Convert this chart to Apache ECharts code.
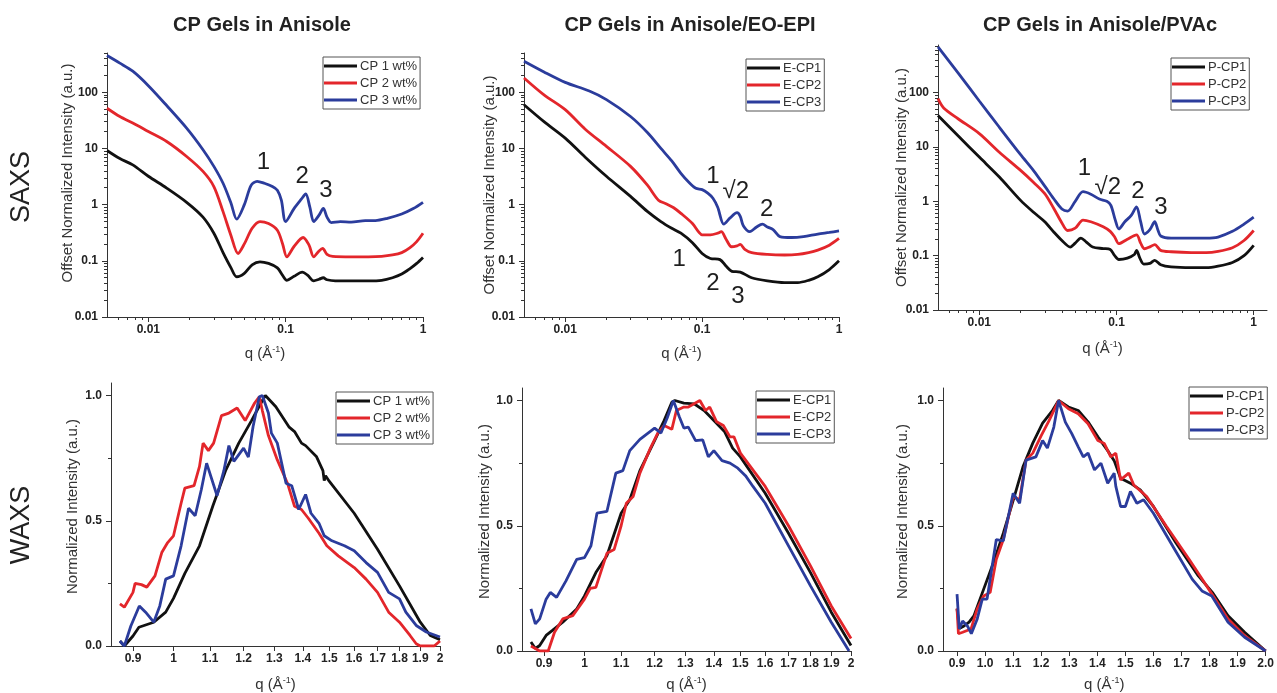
<!DOCTYPE html>
<html>
<head>
<meta charset="utf-8">
<script src="https://cdn.jsdelivr.net/npm/echarts@6/dist/echarts.min.js"></script>
<style>
  html, body { margin: 0; padding: 0; background: #ffffff; }
  #chart { width: 1277px; height: 693px; }
</style>
</head>
<body>
<div id="chart"></div>
<script>
// ---------- Tick values ----------
const saxsXMajor = [0.01, 0.1, 1];
const saxsXMinor = [0.006, 0.007, 0.008, 0.009, 0.02, 0.03, 0.04, 0.05, 0.06, 0.07, 0.08, 0.09,
                    0.2, 0.3, 0.4, 0.5, 0.6, 0.7, 0.8, 0.9];
const saxsYMajor = [0.01, 0.1, 1, 10, 100];
const saxsYMinor = [0.02, 0.03, 0.04, 0.05, 0.06, 0.07, 0.08, 0.09, 0.2, 0.3, 0.4, 0.5, 0.6, 0.7, 0.8, 0.9,
                    2, 3, 4, 5, 6, 7, 8, 9, 20, 30, 40, 50, 60, 70, 80, 90, 200, 300, 400, 500, 600, 700];
const waxsXMajor = [0.9, 1.0, 1.1, 1.2, 1.3, 1.4, 1.5, 1.6, 1.7, 1.8, 1.9, 2.0];
const waxsYMajor = [0, 0.5, 1.0];
const waxsYMinor = [0.25, 0.75];

// ---------- SAXS: CP gels in anisole  [q (1/Å), intensity] ----------
const cp1Saxs = [[0.005, 9.2], [0.0062, 6.6], [0.0077, 5.1], [0.01, 3.2], [0.0136, 1.97], [0.019, 1.1],
  [0.025, 0.6], [0.03, 0.31], [0.035, 0.14], [0.04, 0.075], [0.044, 0.052], [0.05, 0.06], [0.057, 0.085],
  [0.065, 0.096], [0.075, 0.09], [0.087, 0.075], [0.095, 0.055], [0.102, 0.045], [0.115, 0.053],
  [0.132, 0.063], [0.145, 0.055], [0.16, 0.044], [0.175, 0.047], [0.188, 0.05], [0.2, 0.046], [0.23, 0.044],
  [0.3, 0.044], [0.4, 0.044], [0.5, 0.045], [0.6, 0.05], [0.7, 0.058], [0.8, 0.072], [0.9, 0.09], [1.0, 0.115]];
const cp2Saxs = [[0.005, 52], [0.0062, 37], [0.0077, 28.3], [0.01, 20], [0.0136, 13.3], [0.019, 7.2],
  [0.025, 3.9], [0.03, 2.1], [0.035, 0.75], [0.04, 0.28], [0.045, 0.135], [0.05, 0.2], [0.057, 0.38],
  [0.065, 0.5], [0.075, 0.46], [0.087, 0.35], [0.095, 0.2], [0.102, 0.118], [0.115, 0.18], [0.134, 0.26],
  [0.148, 0.19], [0.16, 0.118], [0.175, 0.15], [0.186, 0.166], [0.2, 0.13], [0.22, 0.12], [0.3, 0.118],
  [0.4, 0.118], [0.5, 0.12], [0.6, 0.127], [0.7, 0.14], [0.8, 0.17], [0.9, 0.22], [1.0, 0.31]];
const cp3Saxs = [[0.005, 450], [0.0062, 330], [0.0077, 237], [0.01, 131], [0.0136, 58], [0.019, 23],
  [0.025, 9.5], [0.03, 4.8], [0.035, 2.4], [0.04, 1.06], [0.044, 0.55], [0.05, 1.0], [0.056, 2.2],
  [0.062, 2.6], [0.07, 2.4], [0.08, 2.1], [0.087, 1.8], [0.093, 1.2], [0.1, 0.5], [0.115, 0.85], [0.13, 1.25],
  [0.14, 1.55], [0.15, 0.9], [0.16, 0.5], [0.175, 0.65], [0.188, 0.86], [0.2, 0.6], [0.215, 0.48],
  [0.25, 0.5], [0.3, 0.49], [0.38, 0.52], [0.45, 0.52], [0.55, 0.57], [0.7, 0.68], [0.85, 0.85], [1.0, 1.1]];
const saxsAniMarks = [['1', 0.069, 5.6], ['2', 0.132, 3.2], ['3', 0.196, 1.78]];

// ---------- SAXS: CP gels in anisole/EO-EPI ----------
const ecp1Saxs = [[0.005, 60], [0.007, 30], [0.01, 15.3], [0.014, 7], [0.02, 3.2], [0.03, 1.4], [0.04, 0.75],
  [0.05, 0.5], [0.06, 0.38], [0.07, 0.31], [0.085, 0.21], [0.1, 0.135], [0.115, 0.11], [0.135, 0.105],
  [0.15, 0.08], [0.165, 0.065], [0.19, 0.063], [0.23, 0.05], [0.3, 0.044], [0.4, 0.041], [0.5, 0.041],
  [0.6, 0.045], [0.7, 0.052], [0.85, 0.07], [1.0, 0.1]];
const ecp2Saxs = [[0.005, 180], [0.007, 90], [0.01, 49], [0.014, 22], [0.02, 10.9], [0.03, 4.8], [0.04, 2.2],
  [0.048, 1.2], [0.055, 1.03], [0.062, 0.88], [0.07, 0.7], [0.085, 0.46], [0.095, 0.32], [0.1, 0.29],
  [0.115, 0.29], [0.13, 0.31], [0.138, 0.33], [0.15, 0.24], [0.164, 0.178], [0.18, 0.185], [0.19, 0.196],
  [0.205, 0.16], [0.23, 0.14], [0.3, 0.13], [0.4, 0.127], [0.5, 0.13], [0.6, 0.14], [0.7, 0.155],
  [0.85, 0.19], [1.0, 0.25]];
const ecp3Saxs = [[0.005, 357], [0.007, 230], [0.01, 150], [0.015, 105], [0.02, 74], [0.03, 37], [0.04, 19],
  [0.05, 10], [0.06, 6], [0.07, 3.6], [0.08, 2.5], [0.09, 1.95], [0.1, 1.85], [0.11, 1.6], [0.12, 1.3],
  [0.13, 0.9], [0.144, 0.45], [0.16, 0.58], [0.18, 0.72], [0.19, 0.62], [0.2, 0.42], [0.223, 0.33],
  [0.25, 0.4], [0.276, 0.45], [0.3, 0.4], [0.33, 0.36], [0.37, 0.27], [0.45, 0.26], [0.55, 0.27],
  [0.7, 0.3], [0.85, 0.32], [1.0, 0.34]];
const saxsEpiMarks = [['1', 0.12, 3.16], ['√2', 0.176, 1.7], ['2', 0.296, 0.83],
  ['1', 0.068, 0.105], ['2', 0.12, 0.04], ['3', 0.183, 0.0233]];

// ---------- SAXS: CP gels in anisole/PVAc ----------
const pcp1Saxs = [[0.005, 38], [0.007, 16], [0.01, 6.5], [0.014, 2.8], [0.02, 1.04], [0.025, 0.62], [0.03, 0.42],
  [0.035, 0.27], [0.04, 0.19], [0.046, 0.144], [0.05, 0.17], [0.055, 0.21], [0.06, 0.18], [0.067, 0.144],
  [0.08, 0.135], [0.09, 0.13], [0.097, 0.1], [0.104, 0.085], [0.12, 0.09], [0.135, 0.105], [0.14, 0.125],
  [0.148, 0.09], [0.158, 0.07], [0.175, 0.072], [0.19, 0.082], [0.21, 0.068], [0.25, 0.062], [0.35, 0.06],
  [0.45, 0.06], [0.55, 0.064], [0.7, 0.075], [0.85, 0.1], [1.0, 0.155]];
const pcp2Saxs = [[0.005, 77], [0.0055, 52], [0.007, 33], [0.01, 17.6], [0.014, 8], [0.02, 3.7], [0.025, 2.2],
  [0.03, 1.38], [0.035, 0.73], [0.04, 0.4], [0.044, 0.29], [0.05, 0.32], [0.057, 0.45], [0.065, 0.42],
  [0.08, 0.34], [0.09, 0.28], [0.097, 0.22], [0.104, 0.166], [0.12, 0.2], [0.14, 0.24], [0.15, 0.17],
  [0.16, 0.134], [0.175, 0.145], [0.19, 0.16], [0.21, 0.125], [0.25, 0.118], [0.35, 0.114], [0.45, 0.114],
  [0.55, 0.12], [0.7, 0.14], [0.85, 0.19], [1.0, 0.29]];
const pcp3Saxs = [[0.005, 690], [0.007, 230], [0.01, 70], [0.014, 23], [0.02, 7.2], [0.025, 3.6], [0.03, 1.9],
  [0.035, 1.1], [0.04, 0.72], [0.044, 0.66], [0.05, 1.0], [0.057, 1.5], [0.065, 1.35], [0.075, 1.1],
  [0.085, 1.0], [0.091, 0.84], [0.098, 0.45], [0.104, 0.31], [0.115, 0.42], [0.128, 0.55], [0.14, 0.79],
  [0.15, 0.42], [0.16, 0.25], [0.175, 0.3], [0.19, 0.42], [0.2, 0.3], [0.21, 0.23], [0.25, 0.21],
  [0.35, 0.21], [0.45, 0.21], [0.55, 0.22], [0.7, 0.28], [0.85, 0.38], [1.0, 0.51]];
const saxsPvacMarks = [['1', 0.0583, 4.0], ['√2', 0.0865, 1.78], ['2', 0.143, 1.49], ['3', 0.211, 0.76]];

// ---------- WAXS: CP gels in anisole  [q (1/Å), normalized intensity] ----------
const cp1Waxs = [[0.87, 0.02], [0.88, 0.0], [0.9, 0.04], [0.914, 0.075], [0.95, 0.095], [0.98, 0.135], [1.0, 0.19],
  [1.03, 0.29], [1.07, 0.40], [1.108, 0.56], [1.145, 0.70], [1.185, 0.81], [1.225, 0.90], [1.26, 0.98],
  [1.27, 1.0], [1.305, 0.955], [1.35, 0.875], [1.37, 0.856], [1.395, 0.81], [1.41, 0.80], [1.45, 0.757],
  [1.475, 0.70], [1.48, 0.66], [1.485, 0.68], [1.5, 0.657], [1.6, 0.53], [1.7, 0.386], [1.8, 0.24],
  [1.9, 0.095], [1.95, 0.042], [2.0, 0.025]];
const cp2Waxs = [[0.87, 0.168], [0.88, 0.155], [0.9, 0.214], [0.905, 0.25], [0.92, 0.245], [0.933, 0.235],
  [0.953, 0.28], [0.97, 0.373], [0.985, 0.413], [1.0, 0.44], [1.02, 0.57], [1.03, 0.63], [1.055, 0.64],
  [1.07, 0.717], [1.08, 0.81], [1.095, 0.78], [1.11, 0.81], [1.133, 0.92], [1.155, 0.93], [1.18, 0.95],
  [1.205, 0.90], [1.235, 0.97], [1.25, 0.995], [1.26, 0.94], [1.28, 0.84], [1.31, 0.743], [1.345, 0.65],
  [1.37, 0.558], [1.395, 0.545], [1.42, 0.51], [1.46, 0.45], [1.49, 0.40], [1.535, 0.36], [1.6, 0.313],
  [1.65, 0.267], [1.7, 0.214], [1.75, 0.135], [1.8, 0.095], [1.85, 0.042], [1.88, 0.009], [1.9, 0.0],
  [1.97, 0.0], [2.0, 0.02]];
const cp3Waxs = [[0.87, 0.02], [0.88, 0.0], [0.895, 0.08], [0.915, 0.16], [0.93, 0.135], [0.95, 0.095],
  [0.965, 0.16], [0.98, 0.267], [1.0, 0.28], [1.02, 0.40], [1.04, 0.55], [1.058, 0.52], [1.075, 0.624],
  [1.09, 0.73], [1.12, 0.60], [1.14, 0.70], [1.155, 0.80], [1.17, 0.737], [1.2, 0.79], [1.215, 0.754],
  [1.23, 0.876], [1.25, 0.995], [1.26, 1.0], [1.28, 0.93], [1.29, 0.85], [1.31, 0.81], [1.34, 0.65],
  [1.36, 0.64], [1.385, 0.545], [1.41, 0.605], [1.43, 0.53], [1.46, 0.49], [1.48, 0.44], [1.51, 0.42],
  [1.56, 0.40], [1.6, 0.38], [1.65, 0.333], [1.7, 0.294], [1.75, 0.214], [1.8, 0.188], [1.83, 0.135],
  [1.88, 0.082], [1.93, 0.056], [2.0, 0.036]];

// ---------- WAXS: CP gels in anisole/EO-EPI ----------
const ecp1Waxs = [[0.87, 0.036], [0.88, 0.01], [0.89, 0.022], [0.905, 0.062], [0.92, 0.082], [0.945, 0.115],
  [0.98, 0.168], [1.0, 0.22], [1.03, 0.313], [1.06, 0.38], [1.1, 0.55], [1.125, 0.604], [1.155, 0.72],
  [1.2, 0.84], [1.23, 0.92], [1.255, 0.993], [1.265, 1.0], [1.295, 0.99], [1.33, 0.987], [1.365, 0.96],
  [1.4, 0.92], [1.44, 0.875], [1.47, 0.81], [1.5, 0.775], [1.6, 0.63], [1.7, 0.47], [1.8, 0.313],
  [1.9, 0.155], [2.0, 0.022]];
const ecp2Waxs = [[0.87, 0.02], [0.89, 0.0], [0.91, 0.0], [0.925, 0.075], [0.945, 0.128], [0.97, 0.141],
  [1.0, 0.207], [1.015, 0.25], [1.03, 0.254], [1.06, 0.39], [1.08, 0.405], [1.1, 0.5], [1.115, 0.59],
  [1.135, 0.617], [1.155, 0.71], [1.187, 0.81], [1.21, 0.87], [1.23, 0.9], [1.255, 0.885], [1.27, 0.96],
  [1.295, 0.974], [1.31, 0.974], [1.35, 1.0], [1.37, 0.96], [1.385, 0.974], [1.41, 0.915], [1.435, 0.9],
  [1.46, 0.855], [1.475, 0.855], [1.5, 0.79], [1.6, 0.657], [1.7, 0.5], [1.8, 0.34], [1.9, 0.18],
  [2.0, 0.05]];
const ecp3Waxs = [[0.87, 0.168], [0.88, 0.108], [0.89, 0.128], [0.905, 0.207], [0.915, 0.234], [0.93, 0.214],
  [0.953, 0.28], [0.98, 0.366], [1.0, 0.373], [1.017, 0.42], [1.033, 0.55], [1.06, 0.557], [1.085, 0.71],
  [1.105, 0.72], [1.125, 0.80], [1.155, 0.845], [1.2, 0.89], [1.22, 0.87], [1.24, 0.93], [1.26, 1.0],
  [1.28, 0.934], [1.295, 0.89], [1.31, 0.894], [1.335, 0.84], [1.36, 0.843], [1.38, 0.775], [1.4, 0.8],
  [1.43, 0.76], [1.46, 0.75], [1.49, 0.73], [1.52, 0.70], [1.55, 0.657], [1.6, 0.59], [1.7, 0.42],
  [1.8, 0.26], [1.9, 0.115], [1.99, 0.0]];

// ---------- WAXS: CP gels in anisole/PVAc ----------
const pcp1Waxs = [[0.9, 0.168], [0.908, 0.09], [0.925, 0.1], [0.943, 0.115], [0.96, 0.14], [0.995, 0.247],
  [1.03, 0.353], [1.065, 0.47], [1.1, 0.60], [1.135, 0.735], [1.17, 0.83], [1.205, 0.91], [1.24, 0.96],
  [1.262, 1.0], [1.297, 0.974], [1.332, 0.96], [1.367, 0.915], [1.402, 0.855], [1.437, 0.80], [1.46, 0.76],
  [1.483, 0.69], [1.518, 0.67], [1.553, 0.643], [1.6, 0.577], [1.68, 0.432], [1.76, 0.3], [1.81, 0.234],
  [1.866, 0.141], [1.925, 0.075], [2.0, 0.0]];
const pcp2Waxs = [[0.9, 0.17], [0.905, 0.069], [0.92, 0.075], [0.95, 0.088], [0.972, 0.168], [0.995, 0.22],
  [1.018, 0.234], [1.04, 0.366], [1.065, 0.445], [1.1, 0.617], [1.123, 0.604], [1.146, 0.762], [1.17, 0.79],
  [1.2, 0.86], [1.228, 0.92], [1.262, 1.0], [1.297, 0.967], [1.332, 0.947], [1.367, 0.907], [1.402, 0.84],
  [1.425, 0.828], [1.448, 0.775], [1.466, 0.79], [1.483, 0.683], [1.512, 0.71], [1.53, 0.663],
  [1.576, 0.617], [1.645, 0.5], [1.727, 0.366], [1.797, 0.247], [1.866, 0.128], [1.924, 0.062], [2.0, 0.0]];
const pcp3Waxs = [[0.9, 0.227], [0.908, 0.088], [0.92, 0.12], [0.937, 0.1], [0.951, 0.069], [0.972, 0.128],
  [0.99, 0.207], [1.007, 0.207], [1.04, 0.445], [1.065, 0.44], [1.1, 0.63], [1.123, 0.59], [1.146, 0.762],
  [1.181, 0.775], [1.205, 0.84], [1.222, 0.81], [1.245, 0.894], [1.262, 1.0], [1.286, 0.914], [1.309, 0.868],
  [1.332, 0.815], [1.35, 0.775], [1.367, 0.79], [1.39, 0.723], [1.413, 0.75], [1.437, 0.67], [1.46, 0.71],
  [1.466, 0.657], [1.483, 0.577], [1.5, 0.577], [1.518, 0.637], [1.541, 0.59], [1.565, 0.604], [1.6, 0.55],
  [1.668, 0.42], [1.738, 0.287], [1.773, 0.24], [1.808, 0.22], [1.866, 0.115], [1.925, 0.055], [2.0, 0.0]];

// ---------- Styling ----------
const FONT = '"Liberation Sans", Arial, Helvetica, sans-serif';
const BLACK = '#111111', RED = '#e3262b', BLUE = '#2b3c9c';
const AXIS_COLOR = '#333333';

const fmtPlain = v => String(+Number(v).toPrecision(3));
const fmtFixed1 = v => Number(v).toFixed(1);

const qName = 'q (Å{s|-1})';
const qNameStyle = {
  fontFamily: FONT, fontSize: 15, color: '#333',
  rich: { s: { fontFamily: FONT, fontSize: 9, color: '#333', verticalAlign: 'top', padding: [0, 0, 8, 0] } }
};

// yShift moves the rotated axis title up along the axis (in px)
const panels = [
  { grid: { left: 107, top: 53, width: 316, height: 264 },
    x: { type: 'log', min: 0.005, max: 1, major: saxsXMajor, minor: saxsXMinor, fmt: fmtPlain },
    y: { type: 'log', min: 0.01, max: 500, major: saxsYMajor, minor: saxsYMinor, fmt: fmtPlain },
    yName: 'Offset Normalized Intensity (a.u.)', yGap: 32, yShift: 12, xGap: 28,
    names: ['CP 1 wt%', 'CP 2 wt%', 'CP 3 wt%'], data: [cp1Saxs, cp2Saxs, cp3Saxs], smooth: 0.3,
    legend: { left: 323, top: 57 }, marks: saxsAniMarks },
  { grid: { left: 524, top: 53, width: 315, height: 264 },
    x: { type: 'log', min: 0.005, max: 1, major: saxsXMajor, minor: saxsXMinor, fmt: fmtPlain },
    y: { type: 'log', min: 0.01, max: 500, major: saxsYMajor, minor: saxsYMinor, fmt: fmtPlain },
    yName: 'Offset Normalized Intensity (a.u.)', yGap: 27, yShift: 0, xGap: 28,
    names: ['E-CP1', 'E-CP2', 'E-CP3'], data: [ecp1Saxs, ecp2Saxs, ecp3Saxs], smooth: 0.3,
    legend: { left: 746, top: 59 }, marks: saxsEpiMarks },
  { grid: { left: 938, top: 45, width: 329, height: 265 },
    x: { type: 'log', min: 0.005, max: 1.25, major: saxsXMajor, minor: saxsXMinor, fmt: fmtPlain },
    y: { type: 'log', min: 0.01, max: 750, major: saxsYMajor, minor: saxsYMinor, fmt: fmtPlain },
    yName: 'Offset Normalized Intensity (a.u.)', yGap: 29, yShift: 0, xGap: 30,
    names: ['P-CP1', 'P-CP2', 'P-CP3'], data: [pcp1Saxs, pcp2Saxs, pcp3Saxs], smooth: 0.3,
    legend: { left: 1171, top: 58 }, marks: saxsPvacMarks },
  { grid: { left: 111, top: 383, width: 329, height: 264 },
    x: { type: 'log', min: 0.85, max: 2, major: waxsXMajor, minor: [], fmt: fmtPlain },
    y: { type: 'value', min: 0, max: 1.05, major: waxsYMajor, minor: waxsYMinor, fmt: fmtFixed1 },
    yName: 'Normalized Intensity (a.u.)', yGap: 31, yShift: 8, xGap: 30,
    names: ['CP 1 wt%', 'CP 2 wt%', 'CP 3 wt%'], data: [cp1Waxs, cp2Waxs, cp3Waxs], smooth: false,
    legend: { left: 336, top: 392 }, marks: [] },
  { grid: { left: 522, top: 388, width: 329, height: 264 },
    x: { type: 'log', min: 0.85, max: 2, major: waxsXMajor, minor: [], fmt: fmtPlain },
    y: { type: 'value', min: 0, max: 1.05, major: waxsYMajor, minor: waxsYMinor, fmt: fmtFixed1 },
    yName: 'Normalized Intensity (a.u.)', yGap: 30, yShift: 8, xGap: 25,
    names: ['E-CP1', 'E-CP2', 'E-CP3'], data: [ecp1Waxs, ecp2Waxs, ecp3Waxs], smooth: false,
    legend: { left: 756, top: 391 }, marks: [] },
  { grid: { left: 943, top: 388, width: 330, height: 264 },
    x: { type: 'value', min: 0.85, max: 2.0, major: waxsXMajor, minor: [], fmt: fmtFixed1 },
    y: { type: 'value', min: 0, max: 1.05, major: waxsYMajor, minor: waxsYMinor, fmt: fmtFixed1 },
    yName: 'Normalized Intensity (a.u.)', yGap: 33, yShift: 8, xGap: 25,
    names: ['P-CP1', 'P-CP2', 'P-CP3'], data: [pcp1Waxs, pcp2Waxs, pcp3Waxs], smooth: false,
    legend: { left: 1189, top: 387 }, marks: [] }
];

const colors = [BLACK, RED, BLUE];

function mainAxis(cfg, gi, pos, name, gap, shift) {
  const nameStyle = pos === 'left'
    ? { fontFamily: FONT, fontSize: 15, color: '#333', padding: [0, 0, 0, 2 * (shift || 0)] }
    : qNameStyle;
  return {
    type: cfg.type, gridIndex: gi, min: cfg.min, max: cfg.max, position: pos, offset: 0,
    logBase: 10,
    axisLine: { show: true, onZero: false, lineStyle: { color: AXIS_COLOR, width: 1 } },
    axisTick: { show: true, inside: false, length: 5, customValues: cfg.major, lineStyle: { color: AXIS_COLOR, width: 1 } },
    axisLabel: {
      customValues: cfg.major, formatter: cfg.fmt, margin: pos === 'left' ? 9 : 7,
      fontFamily: FONT, fontWeight: 'bold', fontSize: 12, color: '#222'
    },
    minorTick: { show: false }, splitLine: { show: false },
    name: name, nameLocation: 'middle', nameGap: gap, nameMoveOverlap: false,
    nameTextStyle: nameStyle
  };
}

// Secondary axis sharing the grid: only draws the short minor ticks
function minorAxis(cfg, gi, pos) {
  return {
    type: cfg.type, gridIndex: gi, min: cfg.min, max: cfg.max, position: pos, offset: 0,
    logBase: 10,
    axisLine: { show: false, onZero: false },
    axisTick: { show: cfg.minor.length > 0, inside: false, length: 3, customValues: cfg.minor.length ? cfg.minor : [cfg.min],
                lineStyle: { color: AXIS_COLOR, width: 1 } },
    axisLabel: { show: false },
    splitLine: { show: false }
  };
}

const option = {
  animation: false,
  backgroundColor: '#ffffff',
  grid: [], xAxis: [], yAxis: [], series: [], legend: [],
  graphic: []
};

panels.forEach((p, i) => {
  option.grid.push(Object.assign({ containLabel: false }, p.grid));
  option.xAxis.push(mainAxis(p.x, i, 'bottom', qName, p.xGap, 0));
  option.xAxis.push(minorAxis(p.x, i, 'bottom'));
  option.yAxis.push(mainAxis(p.y, i, 'left', p.yName, p.yGap, p.yShift));
  option.yAxis.push(minorAxis(p.y, i, 'left'));

  p.data.forEach((d, k) => {
    const s = {
      type: 'line', name: p.names[k], data: d,
      xAxisIndex: 2 * i, yAxisIndex: 2 * i,
      showSymbol: false, symbol: 'none', smooth: p.smooth,
      lineStyle: { color: colors[k], width: 2.8 },
      itemStyle: { color: colors[k] },
      z: 2 + k
    };
    if (k === 0 && p.marks.length) {
      s.markPoint = {
        symbol: 'circle', symbolSize: 1, itemStyle: { color: 'rgba(0,0,0,0)' },
        label: { show: true, position: 'inside', formatter: '{b}', fontFamily: FONT, fontSize: 24, color: '#1e1e1e' },
        data: p.marks.map(m => ({ name: m[0], coord: [m[1], m[2]] }))
      };
    }
    option.series.push(s);
  });

  option.legend.push({
    data: p.names, orient: 'vertical', left: p.legend.left, top: p.legend.top,
    icon: 'rect', itemWidth: 33, itemHeight: 3, itemGap: 3, itemStyle: { borderWidth: 0 },
    padding: [2, 3, 2, 1], borderColor: '#555', borderWidth: 1, backgroundColor: '#fff',
    selectedMode: false,
    textStyle: { fontFamily: FONT, fontSize: 13, color: '#333', lineHeight: 14, padding: [0, 0, 0, -2] }
  });
});

// Panel titles and row labels
const titleStyle = { font: 'bold 20px ' + FONT, fill: '#222', align: 'center', verticalAlign: 'middle',
                     textAlign: 'center', textVerticalAlign: 'middle' };
[['CP Gels in Anisole', 262], ['CP Gels in Anisole/EO-EPI', 690], ['CP Gels in Anisole/PVAc', 1100]]
  .forEach(t => option.graphic.push({ type: 'text', x: t[1], y: 25, style: Object.assign({ text: t[0] }, titleStyle) }));
const rowStyle = { font: '27px ' + FONT, fill: '#222', align: 'center', verticalAlign: 'middle',
                   textAlign: 'center', textVerticalAlign: 'middle' };
[['SAXS', 187], ['WAXS', 525]]
  .forEach(t => option.graphic.push({ type: 'text', x: 22, y: t[1], rotation: Math.PI / 2,
                                      style: Object.assign({ text: t[0] }, rowStyle) }));

const chart = echarts.init(document.getElementById('chart'), null, { renderer: 'canvas' });
chart.setOption(option);
</script>
</body>
</html>
